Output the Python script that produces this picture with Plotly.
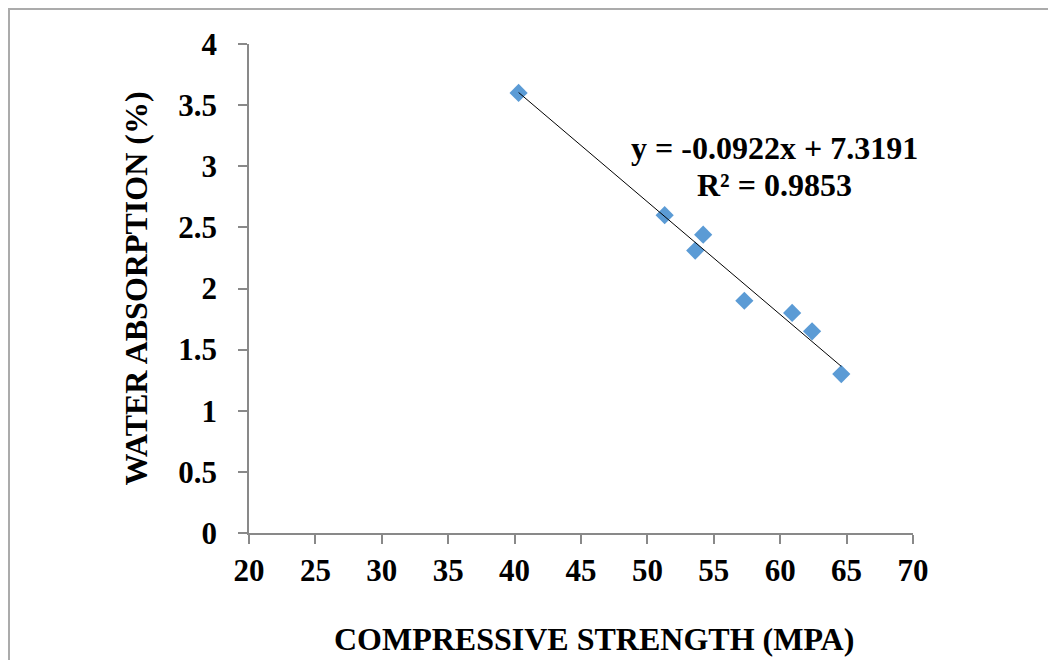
import plotly.graph_objects as go

# Data
compressive_strength = [40.3, 51.3, 54.2, 53.6, 57.3, 60.9, 62.4, 64.6]
water_absorption = [3.6, 2.6, 2.44, 2.31, 1.9, 1.8, 1.65, 1.3]

# Trendline equation shown on the chart
slope = -0.0922
intercept = 7.3191
r_squared = 0.9853

x_ticks = [20, 25, 30, 35, 40, 45, 50, 55, 60, 65, 70]
y_ticks = [0, 0.5, 1, 1.5, 2, 2.5, 3, 3.5, 4]
y_tick_labels = ["0", "0.5", "1", "1.5", "2", "2.5", "3", "3.5", "4"]

FONT = "Liberation Serif, Times New Roman, serif"
AXIS_COLOR = "#898989"

x_min, x_max = min(compressive_strength), max(compressive_strength)
trend_x = [x_min, x_max]
trend_y = [slope * v + intercept for v in trend_x]

fig = go.Figure()
fig.add_trace(go.Scatter(
    x=compressive_strength, y=water_absorption, mode="markers",
    marker=dict(symbol="diamond", size=14, color="#5B9BD5", line=dict(width=0)),
    showlegend=False, hoverinfo="x+y",
))
fig.add_trace(go.Scatter(
    x=trend_x, y=trend_y, mode="lines",
    line=dict(color="black", width=1),
    showlegend=False, hoverinfo="skip",
))

eq_text = f"y = {slope:.4f}x + {intercept:.4f}"
r2_text = f"R² = {r_squared:.4f}"

fig.add_annotation(x=59.6, y=3.15, xref="x", yref="y", text=eq_text, showarrow=False,
                   font=dict(family=FONT, size=32, color="black", weight="bold"),
                   xanchor="center", yanchor="middle")
fig.add_annotation(x=59.6, y=2.85, xref="x", yref="y", text=r2_text, showarrow=False,
                   font=dict(family=FONT, size=32, color="black", weight="bold"),
                   xanchor="center", yanchor="middle")

# x-axis title (placed as annotation to match its position)
fig.add_annotation(x=0.519, y=-0.217, xref="paper", yref="paper",
                   text="COMPRESSIVE STRENGTH (MPA)", showarrow=False,
                   font=dict(family=FONT, size=32, color="black", weight="bold"),
                   xanchor="center", yanchor="middle")

# outer border (left and top edges visible in the reference)
fig.add_shape(type="rect", xref="paper", yref="paper",
              x0=(1 - 241) / 664, x1=1.25, y0=-0.3, y1=1 + 35 / 489,
              line=dict(color="#ababab", width=2), fillcolor="rgba(0,0,0,0)", layer="below")

fig.update_layout(
    width=1048, height=652,
    margin=dict(l=241, r=143, t=36, b=127),
    paper_bgcolor="white", plot_bgcolor="white",
    font=dict(family=FONT, color="black"),
    xaxis=dict(
        range=[20, 70], tickvals=x_ticks, ticktext=[str(v) for v in x_ticks],
        showgrid=False, zeroline=False, showline=True, linecolor=AXIS_COLOR, linewidth=1.5,
        ticks="outside", ticklen=9, tickwidth=1.5, tickcolor=AXIS_COLOR,
        tickfont=dict(family=FONT, size=31, color="black", weight="bold"),
        ticklabelstandoff=0,
    ),
    yaxis=dict(
        range=[0, 4], tickvals=y_ticks, ticktext=y_tick_labels,
        showgrid=False, zeroline=False, showline=True, linecolor=AXIS_COLOR, linewidth=1.5,
        ticks="outside", ticklen=9, tickwidth=1.5, tickcolor=AXIS_COLOR,
        tickfont=dict(family=FONT, size=31, color="black", weight="bold"),
        ticklabelstandoff=15,
        title=dict(text="WATER ABSORPTION (%)", standoff=21,
                   font=dict(family=FONT, size=32, color="black", weight="bold")),
    ),
)

fig.write_html("out.html")
